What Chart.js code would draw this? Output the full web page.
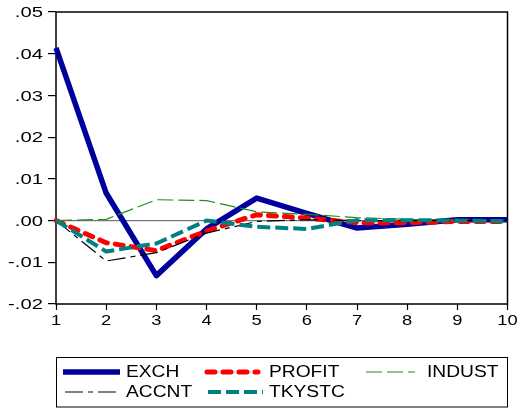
<!DOCTYPE html>
<html>
<head>
<meta charset="utf-8">
<script src="https://cdn.jsdelivr.net/npm/chart.js@4/dist/chart.umd.min.js"></script>
<style>
  html, body { margin: 0; padding: 0; background: #ffffff; }
  #wrap { width: 518px; height: 408px; }
</style>
</head>
<body>
<div id="wrap"><canvas id="c" width="518" height="408"></canvas></div>
<script>
// Impulse responses over ten periods
const periods = ['1', '2', '3', '4', '5', '6', '7', '8', '9', '10'];
const seriesNames = ['EXCH', 'PROFIT', 'INDUST', 'ACCNT', 'TKYSTC'];
const exch   = [0.0414, 0.0066, -0.0132, -0.0020, 0.0054, 0.0017, -0.0018, -0.0009, 0.0002, 0.0002];
const profit = [0.0000, -0.0053, -0.0072, -0.0025, 0.0014, 0.0006, -0.0005, -0.0005, -0.0002, -0.0002];
const indust = [0.0000, 0.0003, 0.0050, 0.0048, 0.0021, 0.0015, 0.0007, 0.0003, 0.0000, 0.0000];
const accnt  = [0.0000, -0.0097, -0.0077, -0.0030, -0.0002, 0.0002, 0.0000, 0.0000, 0.0000, 0.0000];
const tkystc = [0.0000, -0.0074, -0.0055, 0.0000, -0.0015, -0.0020, 0.0001, 0.0001, 0.0000, -0.0002];
const yTicks = [-0.02, -0.01, 0.00, 0.01, 0.02, 0.03, 0.04, 0.05];

const FONT = '"Liberation Sans", Arial, sans-serif';

function fmtY(v) {
  const s = v.toFixed(2);
  return s.replace('0.', '.');
}

// Draws text with a slight horizontal stretch
function wideText(ctx, text, x, y, sx, align) {
  ctx.save();
  ctx.translate(x, y);
  ctx.scale(sx, 1);
  ctx.textAlign = align;
  ctx.textBaseline = 'middle';
  ctx.fillText(text, 0, 0);
  ctx.restore();
}

const framePlugin = {
  id: 'frame',
  beforeDatasetsDraw(chart) {
    const { ctx, chartArea: a } = chart;
    ctx.save();
    ctx.strokeStyle = '#000000';
    ctx.lineWidth = 1.5;
    ctx.strokeRect(a.left, a.top, a.right - a.left, a.bottom - a.top);
    ctx.restore();
  },
  afterDraw(chart) {
    const { ctx } = chart;
    const xs = chart.scales.x, ys = chart.scales.y;
    ctx.save();
    ctx.fillStyle = '#000000';
    ctx.font = '15px ' + FONT;
    // y tick labels
    yTicks.forEach(v => {
      wideText(ctx, fmtY(v), 43, ys.getPixelForValue(v) + 1, 1.35, 'right');
    });
    // x tick labels
    periods.forEach((p, i) => {
      wideText(ctx, p, xs.getPixelForValue(i), 321, 1.22, 'center');
    });

    // legend box
    const L = { left: 56.5, top: 357.5, right: 507.5, bottom: 407 };
    ctx.strokeStyle = '#000000';
    ctx.lineWidth = 1;
    ctx.strokeRect(L.left, L.top, L.right - L.left, L.bottom - L.top);
    const slots = [
      { x0: 63,  x1: 120, tx: 126, y: 372 },
      { x0: 207, x1: 258, tx: 269, y: 372 },
      { x0: 366, x1: 415, tx: 427, y: 372 },
      { x0: 65,  x1: 117, tx: 126, y: 392 },
      { x0: 208, x1: 263, tx: 269, y: 392 }
    ];
    chart.data.datasets.forEach((ds, i) => {
      const s = slots[i];
      ctx.save();
      ctx.strokeStyle = ds.borderColor;
      ctx.lineWidth = ds.borderWidth;
      ctx.lineCap = ds.borderCapStyle || 'butt';
      ctx.setLineDash(ds.borderDash || []);
      ctx.beginPath();
      ctx.moveTo(s.x0, s.y);
      ctx.lineTo(s.x1, s.y);
      ctx.stroke();
      ctx.restore();
      ctx.fillStyle = '#000000';
      ctx.font = '16px ' + FONT;
      wideText(ctx, ds.label, s.tx, s.y + 1, 1.2, 'left');
    });
    ctx.restore();
  }
};

const datasets = [
  { label: seriesNames[0], data: exch,   borderColor: '#00009c', borderWidth: 5.5, borderDash: [],            order: 5, borderCapStyle: 'butt' },
  { label: seriesNames[1], data: profit, borderColor: '#ff0000', borderWidth: 5,   borderDash: [8, 8],        order: 4, borderCapStyle: 'round' },
  { label: seriesNames[2], data: indust, borderColor: '#1f8f1f', borderWidth: 1.2, borderDash: [16, 5],       order: 3, borderCapStyle: 'butt' },
  { label: seriesNames[3], data: accnt,  borderColor: '#000000', borderWidth: 1.2, borderDash: [18, 5, 5, 5], order: 2, borderCapStyle: 'butt' },
  { label: seriesNames[4], data: tkystc, borderColor: '#008080', borderWidth: 4,   borderDash: [13, 5],       order: 1, borderCapStyle: 'butt' }
].map(d => Object.assign({
  fill: false, tension: 0, pointRadius: 0, pointHoverRadius: 0,
  borderJoinStyle: 'round'
}, d));

new Chart(document.getElementById('c'), {
  type: 'line',
  data: { labels: periods, datasets },
  plugins: [framePlugin],
  options: {
    responsive: false,
    animation: false,
    events: [],
    layout: { padding: { left: 48, top: 12, right: 10.5, bottom: 98 } },
    plugins: { legend: { display: false }, tooltip: { enabled: false }, title: { display: false } },
    scales: {
      x: {
        type: 'category',
        offset: false,
        grid: { offset: false, drawOnChartArea: false, tickLength: 6, tickColor: '#000000', tickWidth: 1.2 },
        border: { display: false },
        ticks: { display: false }
      },
      y: {
        min: -0.02, max: 0.05,
        ticks: { display: false, stepSize: 0.01 },
        grid: {
          drawOnChartArea: true,
          tickLength: 8,
          tickColor: '#000000',
          tickWidth: 1.2,
          color: c => (c.tick && Math.abs(c.tick.value) < 1e-9) ? '#777777' : 'rgba(0,0,0,0)',
          lineWidth: 1.2
        },
        border: { display: false }
      }
    }
  }
});
</script>
</body>
</html>
